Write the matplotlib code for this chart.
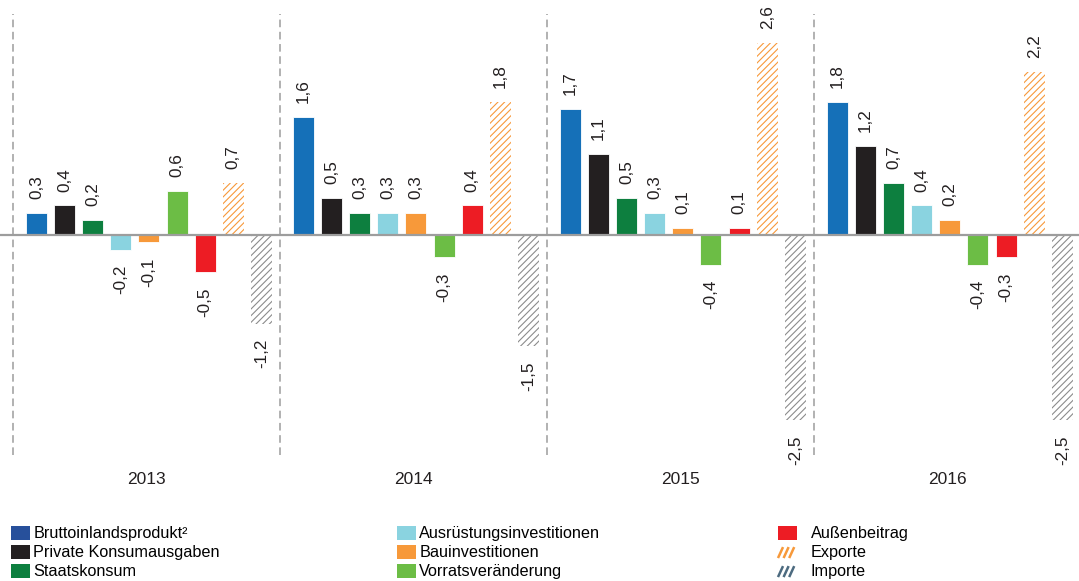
import numpy as np
import matplotlib
matplotlib.use("Agg")
import matplotlib.pyplot as plt
from matplotlib.patches import Patch
from matplotlib.lines import Line2D
from matplotlib.legend_handler import HandlerBase

plt.rcParams['font.family'] = ['Liberation Sans', 'DejaVu Sans']
plt.rcParams['hatch.linewidth'] = 0.8

years = ["2013", "2014", "2015", "2016"]

categories = ["Bruttoinlandsprodukt²", "Private Konsumausgaben", "Staatskonsum",
              "Ausrüstungsinvestitionen", "Bauinvestitionen", "Vorratsveränderung",
              "Außenbeitrag", "Exporte", "Importe"]

bip = [0.3, 1.6, 1.7, 1.8]
private_konsum = [0.4, 0.5, 1.1, 1.2]
staatskonsum = [0.2, 0.3, 0.5, 0.7]
ausruestung = [-0.2, 0.3, 0.3, 0.4]
bau = [-0.1, 0.3, 0.1, 0.2]
vorrat = [0.6, -0.3, -0.4, -0.4]
aussenbeitrag = [-0.5, 0.4, 0.1, -0.3]
exporte = [0.7, 1.8, 2.6, 2.2]
importe = [-1.2, -1.5, -2.5, -2.5]

series = [bip, private_konsum, staatskonsum, ausruestung, bau, vorrat,
          aussenbeitrag, exporte, importe]

colors = ["#1570b8", "#231f20", "#0d7f3f", "#8ad3e0", "#f7993a", "#6cbd45",
          "#ed1c24", "#f7993a", "#8c8c8c"]
hatches = [None] * 7 + ["/////", "/////"]


class StripeHandler(HandlerBase):
    # three short diagonal strokes, like the legend of the original
    def __init__(self, color):
        super().__init__()
        self.color = color

    def create_artists(self, legend, orig_handle, xdescent, ydescent,
                       width, height, fontsize, trans):
        arts = []
        step = width / 3.4
        for i in range(3):
            x = -xdescent + i * step
            ln = Line2D([x, x + step * 0.9], [-ydescent + height * 0.05,
                                              -ydescent + height * 0.85],
                        color=self.color, lw=1.8, transform=trans,
                        solid_capstyle="butt")
            arts.append(ln)
        return arts


fig = plt.figure(figsize=(10.79, 5.81), dpi=100)
W, H = 1079, 581
ax = fig.add_axes([0, 1 - 455 / H, 1, (455 - 14) / H])

group_px = 267.0
pitch = 28.1 / group_px
width = 21.0 / group_px
first = 23.5 / group_px

x0 = np.arange(len(years))
for j, (vals, c, h) in enumerate(zip(series, colors, hatches)):
    xs = x0 + first + j * pitch
    if h:
        ax.bar(xs, vals, width, facecolor="white", edgecolor=c,
               linewidth=0, hatch=h, zorder=2)
    else:
        ax.bar(xs, vals, width, color=c, edgecolor="white",
               linewidth=0.6, zorder=2)
    for x, v in zip(xs, vals):
        txt = f"{v:.1f}".replace(".", ",")
        off = 10 if v >= 0 else -11
        ax.annotate(txt, (x, v), xytext=(0, off), textcoords="offset points",
                    rotation=90, ha="center", va="bottom" if v >= 0 else "top",
                    fontsize=12.3, color="#231f20")

ax.axhline(0, color="#9d9d9d", lw=1.6, zorder=3)
for x in x0:
    ax.axvline(x, color="#9d9d9d", lw=1.1, ls=(0, (5, 3)), zorder=1)

ax.set_xlim(-13 / group_px, (W - 13) / group_px)
ax.set_ylim(-(455 - 235) / 74.0, (235 - 14) / 74.0)
ax.set_xticks(x0 + 0.5)
ax.set_xticklabels(years, fontsize=12.5, color="#231f20")
ax.tick_params(axis="x", length=0, pad=12)
ax.set_yticks([])
for s in ax.spines.values():
    s.set_visible(False)

# legend in three columns
legend_colors = ["#27509b", "#231f20", "#0d7f3f", "#8ad3e0", "#f7993a",
                 "#6cbd45", "#ed1c24", "#f7993a", "#4d6b80"]
handles = []
hmap = {}
for lab, c, h in zip(categories, legend_colors, hatches):
    p = Patch(facecolor=c, edgecolor="none", label=lab)
    if h:
        hmap[p] = StripeHandler(c)
    handles.append(p)

col_x = [11, 397, 778]
pads = [0.2, 0.2, 0.85]
for k in range(3):
    fig.legend(handles=handles[3 * k:3 * k + 3], loc="upper left",
               bbox_to_anchor=(col_x[k] / W, 1 - 526 / H), frameon=False,
               fontsize=11.7, borderpad=0, borderaxespad=0,
               handlelength=1.17, handleheight=0.92, handletextpad=pads[k],
               labelspacing=0.22, handler_map=hmap)

fig.savefig("out.png", dpi=100)
